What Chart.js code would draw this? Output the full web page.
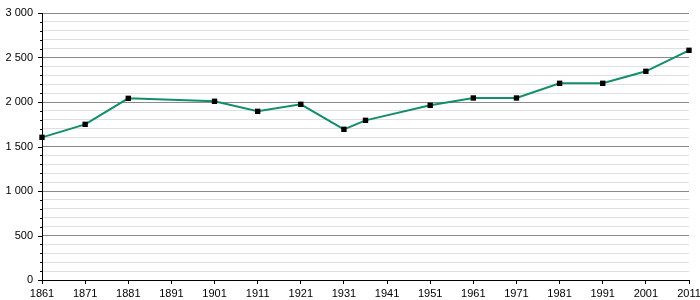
<!DOCTYPE html>
<html>
<head>
<meta charset="utf-8">
<script src="https://cdn.jsdelivr.net/npm/chart.js@4"></script>
<style>
    html, body { margin: 0; padding: 0; background: #fff; }
    #wrap { width: 700px; height: 300px; }
</style>
</head>
<body>
<div id="wrap"><canvas id="population-chart" width="700" height="300"></canvas></div>
<script>
const years = [1861, 1871, 1881, 1901, 1911, 1921, 1931, 1936, 1951, 1961, 1971, 1981, 1991, 2001, 2011];
const population = [1603, 1749, 2041, 2008, 1895, 1974, 1693, 1794, 1963, 2045, 2045, 2210, 2210, 2345, 2581];
const year_ticks = [1861, 1871, 1881, 1891, 1901, 1911, 1921, 1931, 1941, 1951, 1961, 1971, 1981, 1991, 2001, 2011];

const chart = document.getElementById("population-chart");

function format_number(value) {
    // 3000 -> "3 000"
    return String(value).replace(/\B(?=(\d{3})+(?!\d))/g, " ");
}

// y axis tick marks: long ones every 500, short ones every 100
const y_tick_marks = {
    id: "y_tick_marks",
    afterDraw(c) {
        const y = c.scales.y;
        const ctx = c.ctx;
        ctx.save();
        ctx.strokeStyle = "#000";
        ctx.lineWidth = 1;
        for (const tick of y.ticks) {
            const py = Math.round(y.getPixelForValue(tick.value)) + 0.5;
            const len = tick.value % 500 === 0 ? 4 : 2;
            ctx.beginPath();
            ctx.moveTo(y.right - len, py);
            ctx.lineTo(y.right, py);
            ctx.stroke();
        }
        ctx.restore();
    }
};

Chart.defaults.font.family = "'Liberation Sans', Arial, sans-serif";
Chart.defaults.font.size = 11;
Chart.defaults.color = "#000";

new Chart(chart, {
    type: "line",
    data: {
        datasets: [{
            data: years.map((year, i) => ({ x: year, y: population[i] })),
            borderColor: "#138d6c",
            borderWidth: 2,
            pointStyle: "rect",
            pointRadius: 3.8,
            pointBackgroundColor: "#000",
            pointBorderWidth: 0,
            tension: 0,
            clip: false
        }]
    },
    options: {
        responsive: false,
        animation: false,
        layout: {
            padding: { top: 13, right: 11, left: 0, bottom: 0 }
        },
        plugins: {
            legend: { display: false },
            tooltip: { enabled: false }
        },
        scales: {
            x: {
                type: "linear",
                min: 1861,
                max: 2011,
                afterBuildTicks: (scale) => {
                    scale.ticks = year_ticks.map((v) => ({ value: v }));
                },
                ticks: {
                    callback: (value) => String(value),
                    maxRotation: 0,
                    autoSkip: false,
                    padding: 3
                },
                grid: {
                    display: true,
                    drawOnChartArea: false,
                    drawTicks: true,
                    tickLength: 4,
                    tickColor: "#000"
                },
                border: { color: "#000", width: 1 },
                afterFit: (scale) => {
                    scale.height = 20;
                    scale.paddingLeft = 0;
                    scale.paddingRight = 0;
                }
            },
            y: {
                min: 0,
                max: 3000,
                ticks: {
                    stepSize: 100,
                    autoSkip: false,
                    padding: 9,
                    callback: (value) => value % 500 === 0 ? format_number(value) : ""
                },
                grid: {
                    drawTicks: false,
                    color: (ctx) => ctx.tick && ctx.tick.value % 500 === 0 ? "#8a8a8a" : "#e0e0e0",
                    lineWidth: 1
                },
                border: { color: "#000", width: 1 },
                afterFit: (scale) => {
                    scale.width = 42;
                    scale.paddingTop = 0;
                    scale.paddingBottom = 0;
                }
            }
        }
    },
    plugins: [y_tick_marks]
});
</script>
</body>
</html>
